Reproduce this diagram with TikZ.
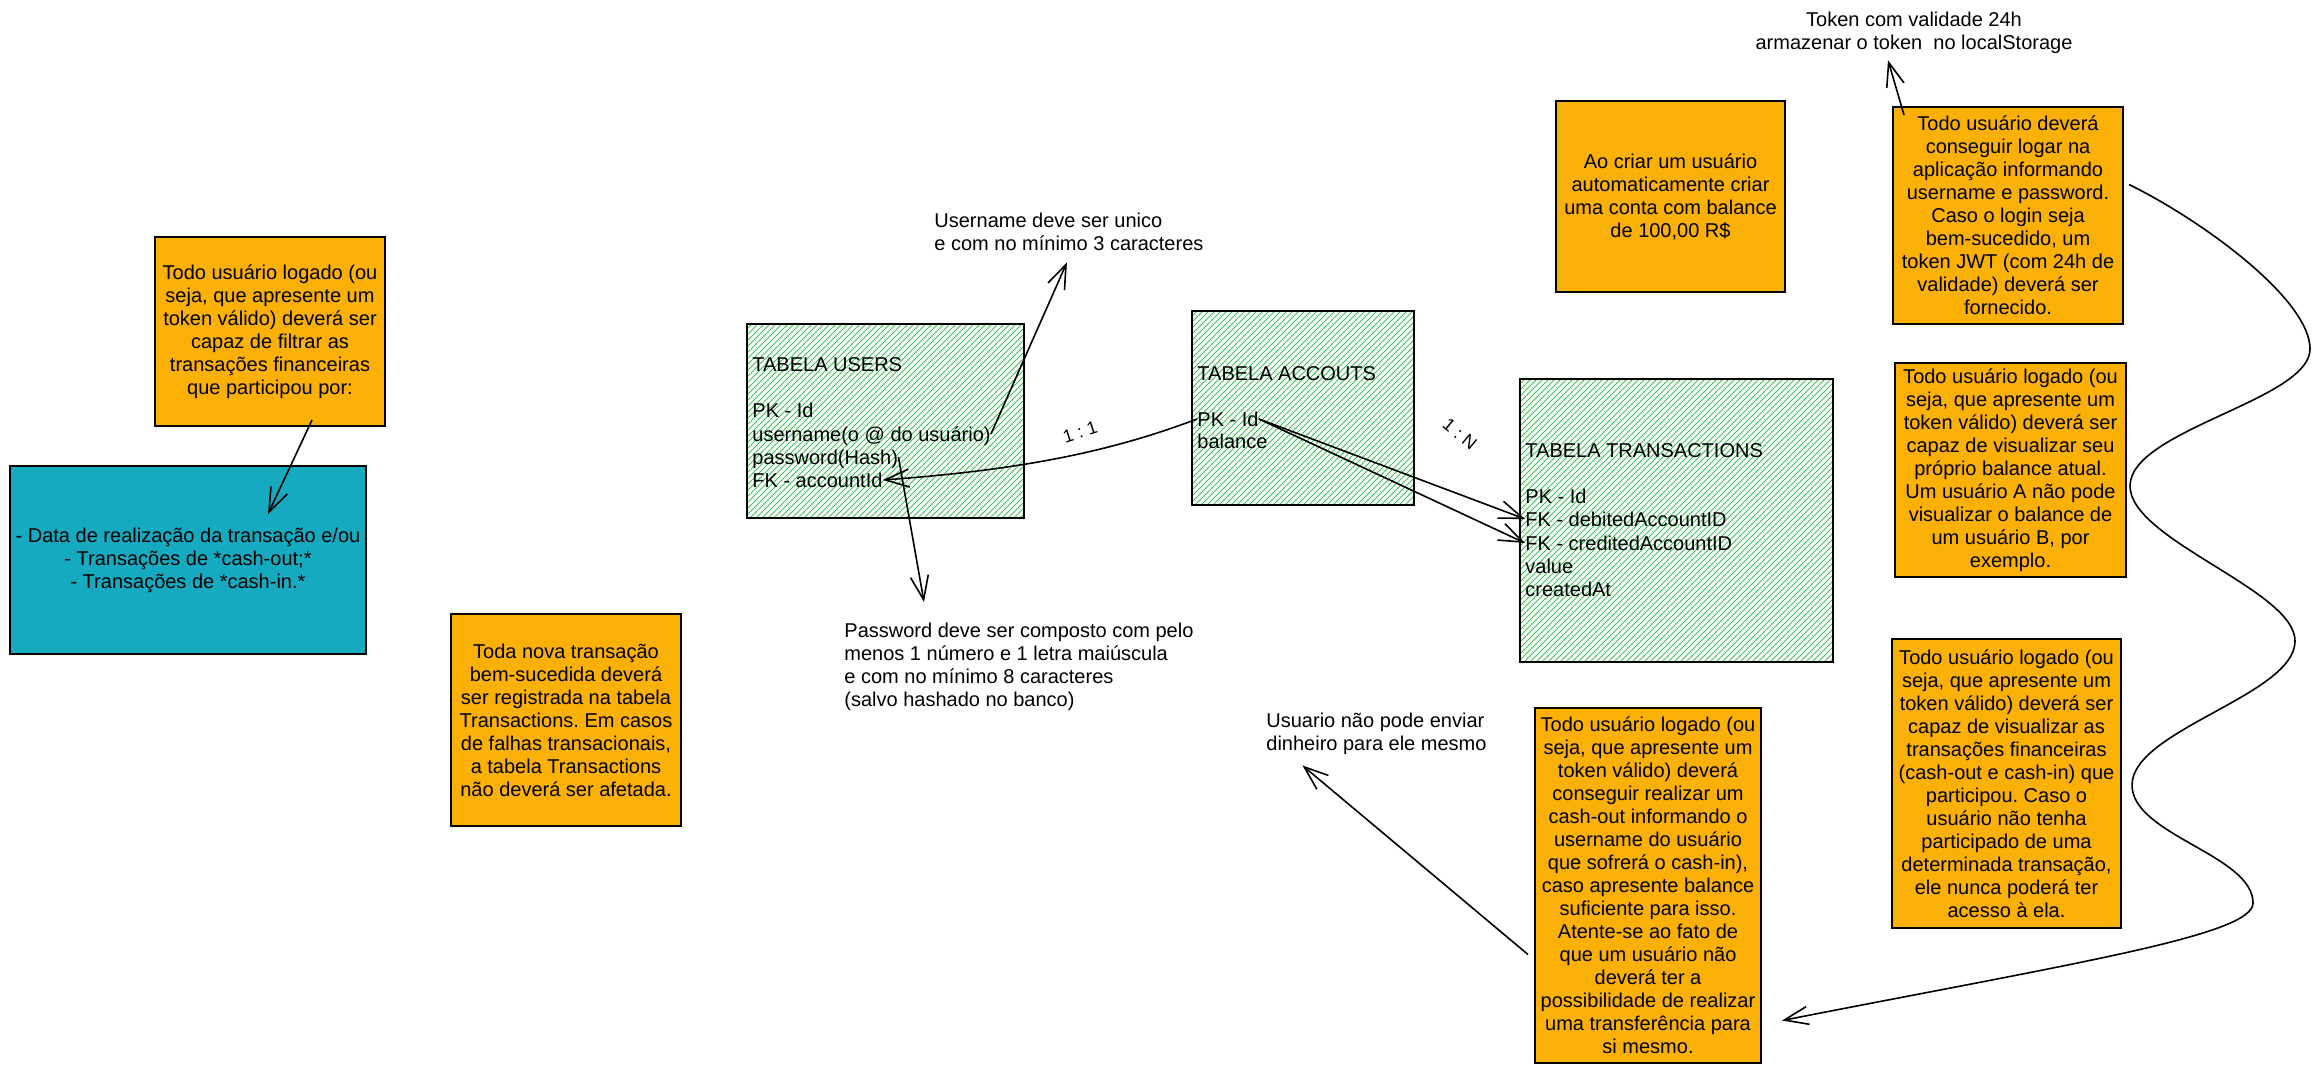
\documentclass[tikz,border=0pt]{standalone}
\usepackage{fontspec}
\setmainfont{Liberation Sans}
\usepackage{xcolor}
\usepackage{tikz}
\usetikzlibrary{arrows.meta,patterns,calc}
\frenchspacing

\begin{document}
\begin{tikzpicture}[x=0.5pt,y=-0.5pt,
  card/.style={draw=black,line width=1pt,fill=lorange,align=center,inner sep=0pt,font=\fontsize{10}{11.5}\selectfont},
  tablebox/.style={draw=black,line width=1pt,pattern=north east lines,pattern color=lgreen},
  field/.style={anchor=west,inner sep=0pt,text height=7pt,text depth=0pt,font=\fontsize{10}{11.5}\selectfont},
  memo/.style={inner sep=0pt,font=\fontsize{10}{11.5}\selectfont},
  ratio/.style={inner sep=0pt,font=\fontsize{9}{10}\selectfont},
  link/.style={-{Straight Barb[length=12pt,width=9pt]},line width=0.8pt,black}]
  \definecolor{lorange}{RGB}{250,176,5}
  \definecolor{lcyan}{RGB}{21,170,191}
  \definecolor{lgreen}{RGB}{64,192,87}
  \path[fill=white] (0,0) rectangle (2321,1076);

  \node[card,minimum width=115pt,minimum height=94.5pt] (filterBox) at (270,331.5) {Todo usuário logado (ou\\seja, que apresente um\\token válido) deverá ser\\capaz de filtrar as\\transações financeiras\\que participou por:};
  \node[card,fill=lcyan,minimum width=178pt,minimum height=94pt] (filterList) at (188,560) {- Data de realização da transação e/ou\\- Transações de *cash-out;*\\- Transações de *cash-in.*};
  \node[card,minimum width=115pt,minimum height=106pt] (storeBox) at (566,720) {Toda nova transação\\bem-sucedida deverá\\ser registrada na tabela\\Transactions. Em casos\\de falhas transacionais,\\a tabela Transactions\\não deverá ser afetada.};

  \node[tablebox,minimum width=138.5pt,minimum height=97pt] (usersTable) at (885.5,421) {};
  \node[field] (usersTitle) at (752,364) {TABELA USERS};
  \node[field] (usersPk) at (752,410) {PK - Id};
  \node[field] (usersName) at (752,434) {username(o @ do usuário)};
  \node[field] (usersPass) at (752,457) {password(Hash)};
  \node[field] (usersFk) at (752,480) {FK - accountId};

  \node[tablebox,minimum width=111pt,minimum height=97pt] (accountsTable) at (1303,408) {};
  \node[field] (accountsTitle) at (1197,373) {TABELA ACCOUTS};
  \node[field] (accountsPk) at (1197,419) {PK - Id};
  \node[field] (accountsBalance) at (1197,441) {balance};

  \node[tablebox,minimum width=156.5pt,minimum height=141.5pt] (transTable) at (1676.5,520.5) {};
  \node[field] (transTitle) at (1525,450) {TABELA TRANSACTIONS};
  \node[field] (transPk) at (1525,496) {PK - Id};
  \node[field] (transDebit) at (1525,519) {FK - debitedAccountID};
  \node[field] (transCredit) at (1525,543) {FK - creditedAccountID};
  \node[field] (transValue) at (1525,566) {value};
  \node[field] (transDate) at (1525,589) {createdAt};

  \node[memo,anchor=north west,align=left] (noteUser) at (934,213) {Username deve ser unico\\e com no mínimo 3 caracteres};
  \node[memo,anchor=north west,align=left] (notePass) at (844,623) {Password deve ser composto com pelo\\menos 1 número e 1 letra maiúscula\\e com no mínimo 8 caracteres\\(salvo hashado no banco)};
  \node[memo,align=center] (noteToken) at (1914,33) {Token com validade 24h\\armazenar o token~ no localStorage};
  \node[memo,anchor=north west,align=left] (noteSelf) at (1266,713) {Usuario não pode enviar\\dinheiro para ele mesmo};

  \node[card,minimum width=114.5pt,minimum height=95.5pt] (accountBox) at (1670.5,196.5) {Ao criar um usuário\\automaticamente criar\\uma conta com balance\\de 100,00 R\$};
  \node[card,minimum width=115pt,minimum height=108.5pt] (loginBox) at (2008,215.5) {Todo usuário deverá\\conseguir logar na\\aplicação informando\\username e password.\\Caso o login seja\\bem-sucedido, um\\token JWT (com 24h de\\validade) deverá ser\\fornecido.};
  \node[card,minimum width=115.5pt,minimum height=107pt] (balanceBox) at (2010.5,470) {Todo usuário logado (ou\\seja, que apresente um\\token válido) deverá ser\\capaz de visualizar seu\\próprio balance atual.\\Um usuário A não pode\\visualizar o balance de\\um usuário B, por\\exemplo.};
  \node[card,minimum width=114.5pt,minimum height=144.5pt] (historyBox) at (2006.5,783.5) {Todo usuário logado (ou\\seja, que apresente um\\token válido) deverá ser\\capaz de visualizar as\\transações financeiras\\(cash-out e cash-in) que\\participou. Caso o\\usuário não tenha\\participado de uma\\determinada transação,\\ele nunca poderá ter\\acesso à ela.};
  \node[card,minimum width=113pt,minimum height=177.5pt] (cashoutBox) at (1648,885.5) {Todo usuário logado (ou\\seja, que apresente um\\token válido) deverá\\conseguir realizar um\\cash-out informando o\\username do usuário\\que sofrerá o cash-in),\\caso apresente balance\\suficiente para isso.\\Atente-se ao fato de\\que um usuário não\\deverá ter a\\possibilidade de realizar\\uma transferência para\\si mesmo.};

  \draw[link] ($(filterBox.south)+(42,-7)$) -- ($(filterList.north)+(80,49)$);
  \draw[link] (usersName.east) -- ($(noteUser.south)+(-2,11)$);
  \draw[link] (usersPass.east) -- ($(notePass.north west)+(80,-21)$);
  \draw[link] (accountsPk.west) .. controls (1110,452) and (1020,470) .. (usersFk.east);
  \draw[link] (accountsPk.east) -- (transDebit.west);
  \draw[link] (accountsPk.east) -- (transCredit.west);
  \node[ratio,rotate=18] (ratioOne) at (1080,432) {1 : 1};
  \node[ratio,rotate=-40] (ratioMany) at (1460,434) {1 : N};
  \draw[link] ($(loginBox.north west)+(12,9)$) -- ($(noteToken.south)+(-26,6)$);
  \draw[link] ($(cashoutBox.west)+(-6,69)$) -- ($(noteSelf.south)+(-74,10)$);

  \coordinate (waveStart) at ($(loginBox.east)+(5,-31)$);
  \coordinate (waveEnd) at ($(cashoutBox.east)+(20,135)$);
  \draw[link] (waveStart) .. controls (2205,222) and (2310,300) .. (2310,349)
    .. controls (2310,400) and (2130,430) .. (2130,486)
    .. controls (2130,540) and (2295,590) .. (2295,641)
    .. controls (2295,695) and (2132,730) .. (2132,785)
    .. controls (2132,835) and (2253,855) .. (2253,903)
    .. controls (2253,935) and (2081,962) .. (waveEnd);
\end{tikzpicture}
\end{document}
